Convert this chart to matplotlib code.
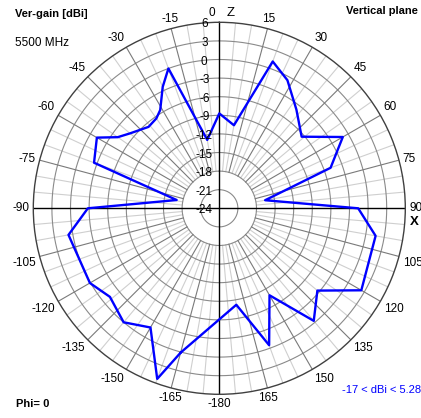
import numpy as np
import matplotlib
matplotlib.use('Agg')
import matplotlib.pyplot as plt

plt.rcParams['font.family'] = ['Liberation Sans', 'DejaVu Sans']

# vertical-plane gain pattern, 5500 MHz (angle from Z, clockwise; gain in dBi)
angles = [-165, -160, -150, -140, -129, -120, -100, -90, -79, -70, -60, -55,
          -50, -41, -35, -31, -25, -20, -10, 0, 10, 20, 28, 38, 49, 60, 70,
          80, 90, 100, 120, 130, 140, 150, 160, 170]
gain = [0.1, 5.28, -1.8, 0.0, -1.3, 0.1, 0.7, -2.8, -17.0, -2.5, -1.2, -4.0,
        -5.2, -6.6, -6.3, -5.5, -2.4, 0.0, -12.8, -8.7, -10.4, 1.2, -0.6, -3.8,
        -6.4, -1.0, -4.9, -16.5, -1.6, 1.6, 2.45, -3.35, -0.3, -7.8, -0.5, -8.2]

r_ticks = list(range(6, -25, -3))
ang_ticks = list(range(-165, 181, 15))

W, H = 421, 418
fig = plt.figure(figsize=(W / 100, H / 100), dpi=100)
cx, cy, R = 219.3, 208.3, 186
ax = fig.add_axes([(cx - R) / W, (H - cy - R) / H, 2 * R / W, 2 * R / H],
                  projection='polar')
ax.set_theta_zero_location('N')
ax.set_theta_direction(-1)
ax.set_ylim(-24, 6)
ax.grid(False)
ax.set_xticks([])
ax.set_yticks([])
ax.spines['polar'].set_color('#404040')
ax.spines['polar'].set_linewidth(1.0)

# circles
tt = np.linspace(0, 2 * np.pi, 361)
for v in range(-21, 6, 3):
    ax.plot(tt, np.full_like(tt, v), color='#8a8a8a', lw=0.8, zorder=1)

# radial lines
for a in range(0, 360, 5):
    if a % 90 == 0:
        continue
    th = np.radians(a)
    col = '#7a7a7a' if a % 15 == 0 else '#cfcfcf'
    ax.plot([th, th], [-18, 6], color=col, lw=0.8, zorder=1 if a % 15 == 0 else 0.5)

# main axes
ax.plot([0, np.pi], [6, 6], color='black', lw=1.0, zorder=2)
ax.plot([np.pi / 2, 3 * np.pi / 2], [6, 6], color='black', lw=1.0, zorder=2)

# pattern
th = np.radians(angles + angles[:1])
ax.plot(th, gain + gain[:1], color='#0000ff', lw=1.7, zorder=3)

fs = 8.5
# radial labels
for v in r_ticks:
    ax.annotate(str(v), xy=(0, v), xytext=(-15, -2), textcoords='offset pixels',
                ha='center', va='center', fontsize=fs)

# angle labels
for a in ang_ticks:
    if a == 0:
        continue
    s, c = np.sin(np.radians(a)), np.cos(np.radians(a))
    ha = 'left' if s > 0.3 else ('right' if s < -0.3 else 'center')
    va = 'bottom' if c > 0.3 else ('top' if c < -0.2 else 'center')
    lbl = '-180' if a == 180 else str(a)
    ax.text(np.radians(a), 6.6, lbl, ha=ha, va=va, fontsize=fs)

ax.annotate('0', xy=(0, 6), xytext=(-7, 9), textcoords='offset pixels',
            ha='center', va='center', fontsize=fs)
ax.annotate('Z', xy=(0, 6), xytext=(11, 9), textcoords='offset pixels',
            ha='center', va='center', fontsize=fs + 1)
ax.annotate('X', xy=(np.pi / 2, 6), xytext=(9, -14), textcoords='offset pixels',
            ha='center', va='center', fontsize=fs + 1, fontweight='bold')

fig.text(15 / W, 1 - 14 / H, 'Ver-gain [dBi]', fontsize=8, fontweight='bold',
         ha='left', va='center')
fig.text(15 / W, 1 - 43 / H, '5500 MHz', fontsize=fs, ha='left', va='center')
fig.text(418 / W, 1 - 11 / H, 'Vertical plane', fontsize=8, fontweight='bold',
         ha='right', va='center')
fig.text(16 / W, 1 - 404 / H, 'Phi= 0', fontsize=8, fontweight='bold',
         ha='left', va='center')
fig.text(421 / W, 1 - 390 / H, '-17 < dBi < 5.28', fontsize=8, color='#0000ff',
         ha='right', va='center')

fig.savefig('out.png', dpi=100)
